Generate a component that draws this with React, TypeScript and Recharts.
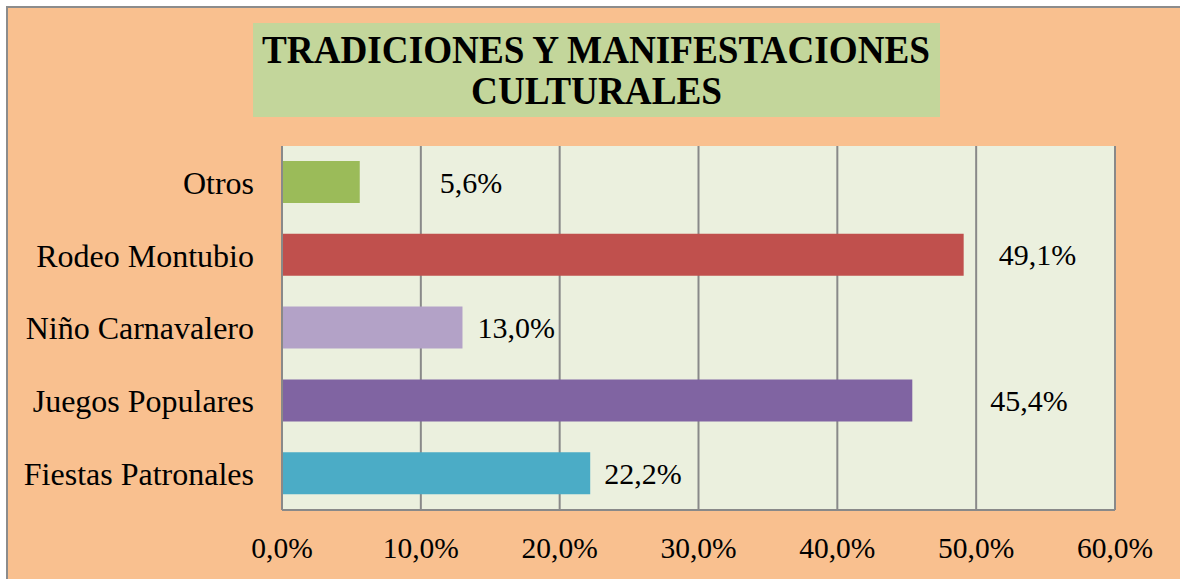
import React from "react";
import { BarChart, Bar, XAxis, YAxis, CartesianGrid, Cell, LabelList } from "recharts";

const categories = ["Otros", "Rodeo Montubio", "Niño Carnavalero", "Juegos Populares", "Fiestas Patronales"];
const values = [5.6, 49.1, 13.0, 45.4, 22.2];
const barColors = ["#9BBB59", "#C0504D", "#B3A2C7", "#8064A2", "#4BACC6"];
const xTicks = [0, 10, 20, 30, 40, 50, 60];
const titleLines = ["TRADICIONES Y MANIFESTACIONES", "CULTURALES"];

// label gap (px) from bar end, matching the manual label placement of the original
const labelGaps = [80, 35, 15, 78, 14];

const data = categories.map((name, i) => ({ name, value: values[i] }));

const FONT = "Liberation Serif, Times New Roman, serif";
const fmt = (v: number) => v.toFixed(1).replace(".", ",") + "%";

const renderLabel = (props: any) => {
  const { x, y, width, height, value, index } = props;
  return (
    <text
      x={Number(x) + Number(width) + labelGaps[index]}
      y={Number(y) + Number(height) / 2}
      dy="0.35em"
      style={{ fontFamily: FONT, fontSize: 30 }}
      fill="#000"
      textAnchor="start"
    >
      {fmt(Number(value))}
    </text>
  );
};

export default function App() {
  return (
    <div style={{ position: "absolute", left: 0, top: 0, width: 1180, height: 579, overflow: "hidden", background: "#fff", fontFamily: FONT }}>
      <div
        style={{
          position: "absolute",
          left: 6,
          top: 6,
          width: 1200,
          height: 600,
          border: "2px solid #8c8c8c",
          background: "#F9C08F",
        }}
      />
      <div style={{ position: "absolute", left: 253, top: 23, width: 687, height: 94, background: "#C3D69B" }} />
      <svg style={{ position: "absolute", left: 0, top: 0 }} width={1180} height={130}>
        <text
          x={596}
          y={63}
          textAnchor="middle"
          style={{ fontFamily: FONT, fontWeight: "bold", fontSize: 40 }}
          textLength={668}
          lengthAdjust="spacingAndGlyphs"
        >
          {titleLines[0]}
        </text>
        <text
          x={596.5}
          y={104}
          textAnchor="middle"
          style={{ fontFamily: FONT, fontWeight: "bold", fontSize: 40 }}
          textLength={251}
          lengthAdjust="spacingAndGlyphs"
        >
          {titleLines[1]}
        </text>
      </svg>
      <div style={{ position: "absolute", left: 0, top: 0 }}>
        <BarChart
          width={1180}
          height={579}
          data={data}
          layout="vertical"
          margin={{ top: 146, right: 65, bottom: 0, left: 0 }}
          style={{ fontFamily: FONT }}
        >
          <CartesianGrid horizontal={false} stroke="#898989" strokeWidth={2} fill="#EBF0DE" fillOpacity={1} />
          <XAxis
            type="number"
            domain={[0, 60]}
            ticks={xTicks}
            tickFormatter={fmt}
            height={69}
            tickSize={0}
            tickMargin={27}
            axisLine={{ stroke: "#898989", strokeWidth: 2 }}
            tick={{ fill: "#000", fontFamily: FONT, fontSize: 29.5 }}
            interval={0}
          />
          <YAxis
            type="category"
            dataKey="name"
            width={282}
            tickSize={0}
            tickMargin={28}
            axisLine={{ stroke: "#898989", strokeWidth: 2 }}
            tick={{ fill: "#000", fontFamily: FONT, fontSize: 32 }}
            interval={0}
          />
          <Bar dataKey="value" barSize={42} isAnimationActive={false}>
            {data.map((d, i) => (
              <Cell key={d.name} fill={barColors[i]} />
            ))}
            <LabelList dataKey="value" content={renderLabel} />
          </Bar>
        </BarChart>
      </div>
    </div>
  );
}
